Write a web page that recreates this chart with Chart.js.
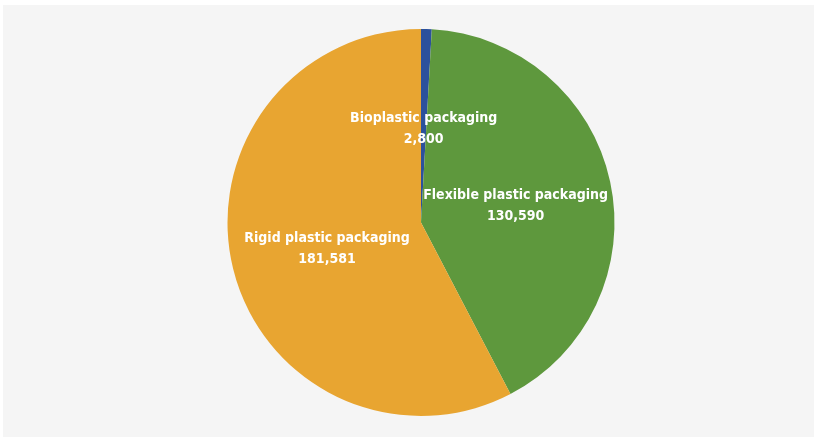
<!DOCTYPE html>
<html>
<head>
<meta charset="utf-8">
<script src="https://cdn.jsdelivr.net/npm/chart.js@4.4.1/dist/chart.umd.min.js"></script>
<style>
  html, body { margin: 0; padding: 0; background: #ffffff; }
  #wrap { width: 817px; height: 439px; position: relative; }
</style>
</head>
<body>
<div id="wrap"><canvas id="chart" width="817" height="439"></canvas></div>
<script>
const categories = ['Bioplastic packaging', 'Flexible plastic packaging', 'Rigid plastic packaging'];
const tonnes = [2800, 130590, 181581];
const valueLabels = ['2,800', '130,590', '181,581'];
const sliceColors = ['#2c519c', '#5e983d', '#e8a531'];

// grey panel behind the pie
const panelBg = {
  id: 'panelBg',
  beforeDraw(chart) {
    const ctx = chart.ctx;
    ctx.save();
    ctx.fillStyle = '#f5f5f5';
    ctx.fillRect(3, 5, 811, 432);
    ctx.restore();
  }
};

// two-line white labels in the middle of each slice
const sliceLabels = {
  id: 'sliceLabels',
  afterDatasetsDraw(chart) {
    const ctx = chart.ctx;
    const arcs = chart.getDatasetMeta(0).data;
    ctx.save();
    ctx.fillStyle = '#ffffff';
    ctx.textAlign = 'center';
    ctx.textBaseline = 'middle';
    ctx.font = 'bold 14px "Liberation Sans Narrow", "DejaVu Sans Condensed", sans-serif';
    arcs.forEach((arc, i) => {
      const p = arc.getCenterPoint();
      ctx.fillText(categories[i], p.x, p.y - 7);
      ctx.fillText(valueLabels[i], p.x, p.y + 14);
    });
    ctx.restore();
  }
};

new Chart(document.getElementById('chart'), {
  type: 'pie',
  data: {
    labels: categories,
    datasets: [{
      data: tonnes,
      backgroundColor: sliceColors,
      borderWidth: 0
    }]
  },
  options: {
    responsive: false,
    animation: false,
    layout: { padding: { top: 29, bottom: 23, left: 25, right: 0 } },
    plugins: {
      legend: { display: false },
      tooltip: { enabled: false }
    }
  },
  plugins: [panelBg, sliceLabels]
});
</script>
</body>
</html>
